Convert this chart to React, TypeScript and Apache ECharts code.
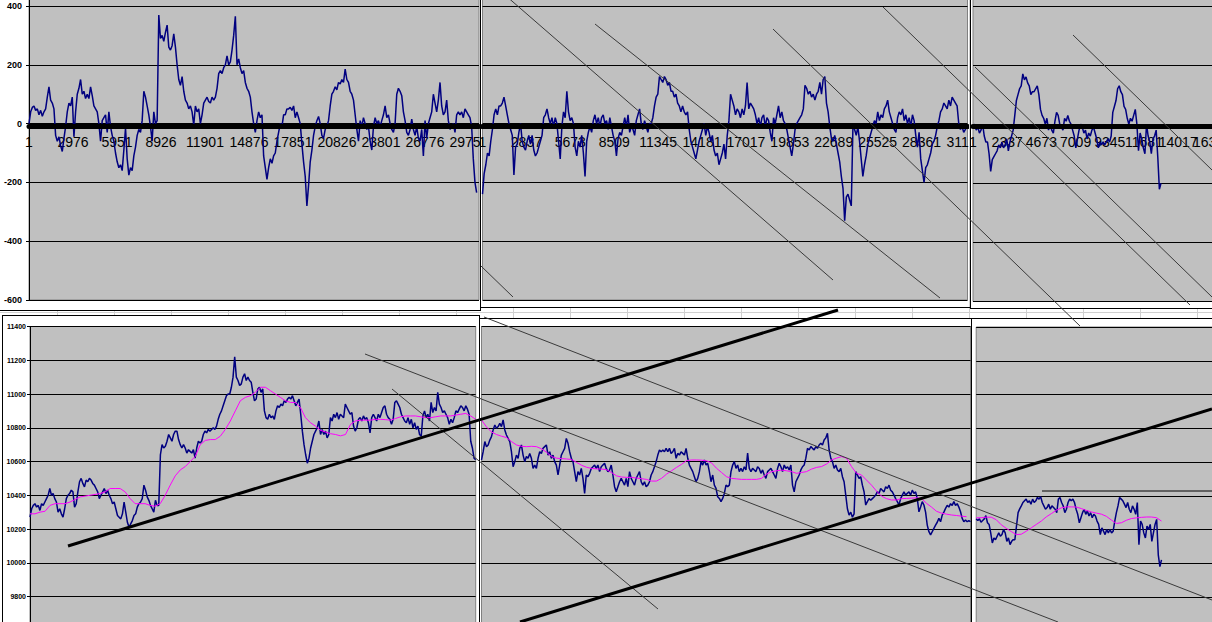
import React, { useEffect, useRef } from "react";
import * as echarts from "echarts";

const FONT = "'Liberation Sans', Arial, sans-serif";

// ---------- top row: oscillator (difference) values ----------
const TL_VALUES = [
  0, 40, 55, 60, 45, 50, 30, 45, 25, 40, 50, 90, 125, 80, 70, 50, -40, -60, -45, -75,
  -95, -50, -10, 40, 70, 60, 90, -45, 40, 100, 120, 150, 100, 110, 85, 100, 85, 125, 95, 60,
  50, 40, 0, -60, 10, 20, 30, -30, 40, -10, -40, -60, -100, -130, -150, -140, -160, -90, -15, -120,
  -175, -150, -160, -110, -80, -40, -20, -30, 10, 110, 90, 60, 30, -10, -60, 40, 0, 10, 369, 290,
  300, 280, 310, 335, 260, 250, 265, 305, 260, 200, 150, 130, 160, 110, 80, 70, 50, 60, 40, -5,
  60, 40, 50, 0, 30, 70, 80, 90, 75, 70, 90, 80, 90, 120, 170, 180, 170, 190, 200, 230,
  200, 210, 250, 300, 365, 200, 220, 190, 170, 180, 140, 120, 110,
  90, 40, 0, -30, 10, 40, 20, 30, -110, -150, -190, -150, -120, -135, -110, -100, -60, -30, 0, -10,
  30, 30, 50, 50, 55, 45, 60, 20, 40, 20, 0, -70, -130, -180, -280, -210, -130, -90, -40, -10,
  10, 24, 0, -40, -50, -20, -10, 10, 60, 100, 110, 125, 115, 140, 135, 150, 140, 185, 150, 140,
  110, 100, 80, 30, -20, -60, 10, -10, 20, 0, -20, -10, -60, -90, -10, 20, 0, 10, -10, 10,
  30, 60, 20, 30, 0, -20, -30, 0, 100, 120, 110, 95, 40, 10, -30, -40, -20, 15, -20, -40,
  -10, -50, -60, -20, -110, 10, -50, 0, 20, 40, 100, 70, 40, 80, 140, 60, 30, 40, 80, 10,
  -20, -10, 0, -30, 30, 40, 30, 40, 20, 50, 40, 30, 20, -10, -120, -200, -235,
];
const TM_VALUES = [
  -240, -170, -140, -100, -110, -60, -20, 30, 50, 30, 60, 60, 70, 90, 60, 30, 0, -20, -40, -175,
  -80, -70, -30, 0, -60, -80, -90, -60, -40, -70, -40, -90, -110, -100, -80, -60, -40, 20, 30, 50,
  20, 0, 20, -10, 20, 0, -60, -120, -10, 40, 20, 110, 40, 10, 20, 0, -80, -110, -60, -80,
  -40, -100, -180, -60, -30, -10, -30, 10, 30, 0, 20, -10, 20, 30, 0, 10, -20, 20, -10, -40,
  -60, -110, -50, -30, -40, -10, 20, -10, 30, -30, -10, -20, -40, 10, 30, 50, 0, -20, 10, -10,
  -30, 0, 0, 20, 60, 90, 100, 160, 150, 140, 160, 150, 130, 140, 110, 110, 90, 100, 70, 60,
  40, 60, 40, 30, 40, -20, -60, -80, -100, -120, -90, -60, -40, -20, 0, -40, -10, -30, -60, -40,
  -90, -110, -100, -140, -120, -100, -70, -120, -40, 10,
  100, 80, 60, 30, 50, 40, 20, 50, 30, 60, 140, 50, 70, 60, 50, 30, 0, 20, -10, 20,
  30, -10, 20, 10, -30, -60, 20, 0, 30, 60, 20, 40, 10, 0, -20, -50, -80, -110, -70, -20,
  0, 10, 20, 30, 50, 130, 120, 100, 110, 90, 100, 80, 100, 110, 140, 100, 150, 160, 70, 40,
  -10, -50, -60, -40, -70, -100, -130, -180, -220, -330, -250, -240, -260, -280, -10, -20, -40, -10, -60, -120,
  -180, -140, -110, -70, -50, -30, -10, 10, 0, 40, 10, 30, 20, 50, 60, 80, 40, 20, 0, -20,
  -30, 20, 40, 30, 50, 10, 30, 0, 20, -10, 30, 10, -40, -80, -30, -120, -160, -200, -150, -140,
  -120, -100, -70, -60, -40, -10, 10, 40, 50, 70, 60, 50, 80, 60, 90, 80, 70, 60, 0, -20,
  -10, -30, -20, -10,
];
const TR_VALUES = [
  -10, 0, -20, -10, -30, -20, 0, -40, -60, -60, -100, -160, -120, -110, -100, -90, -70, -80, -60, -80,
  -70, -50, -90, -60, -40, -20, 30, 80, 100, 120, 130, 170, 150, 160, 140, 130, 100, 110, 110, 120,
  130, 100, 50, 30, 20, 0, 20, -20, 0, -20, -30, 10, 40, 30, 0, -10, -20, 20, 10, 30,
  10, 0, -20, -40, -80, -50, -20, 0, -10, -30, -20, -50, -30, -40, -20, -10, -30, -50, -80, -60,
  -70, -60, -70, -60, -50, -60, -40, 40, 60, 80, 120, 130, 110, 100, 60, 50, 20, 0, 20, 10,
  30, 50, 0, -90, -30, -50, -80, -100, 0, -40, -60, -100, -50, -40, -20, -110, -220, -200,
];

// ---------- bottom row: price and its moving average ----------
const BL_PRICE = [
  10270, 10320, 10340, 10350, 10330, 10340, 10310, 10350, 10340, 10360, 10380, 10400, 10440, 10400, 10410, 10380, 10360, 10300, 10320, 10290,
  10270, 10320, 10380, 10400, 10410, 10430, 10420, 10330, 10350, 10420, 10480, 10500, 10470, 10450, 10490, 10480, 10500, 10490, 10470, 10460,
  10440, 10420, 10380, 10400, 10420, 10440, 10410, 10430, 10400, 10380, 10350, 10360, 10320, 10280, 10270, 10260, 10290, 10360, 10300, 10240,
  10210, 10230, 10250, 10280, 10290, 10330, 10350, 10360, 10380, 10460, 10430, 10390, 10370, 10340, 10320, 10300, 10370, 10340, 10340, 10640,
  10700, 10680, 10690, 10720, 10760, 10740, 10720, 10760, 10780, 10780, 10730, 10700, 10680, 10700, 10680, 10650, 10670, 10660, 10650, 10670,
  10620, 10680, 10720, 10710, 10720, 10760, 10780, 10770, 10790, 10780, 10790, 10800, 10790, 10810, 10850, 10880, 10900, 10930, 10960, 10990,
  11000, 11000, 11040, 11100, 11220, 11100, 11080, 11050, 11060, 11100, 11120, 11080, 11100, 11080, 11070,
  11010, 10960, 10970, 11030, 11040, 11010, 11030, 10900, 10860, 10850, 10880, 10860, 10870, 10850, 10900, 10930, 10920, 10940, 10930, 10960,
  10950, 10970, 10980, 10970, 10990, 10960, 10930, 10950, 10970, 10880, 10780, 10700, 10640, 10590, 10620, 10680, 10720, 10760, 10780, 10800,
  10840, 10760, 10790, 10760, 10780, 10740, 10760, 10860, 10840, 10880, 10860, 10890, 10850, 10880, 10870, 10860, 10940, 10920, 10900, 10880,
  10890, 10810, 10780, 10800, 10850, 10860, 10840, 10870, 10850, 10860, 10830, 10770, 10860, 10880, 10860, 10840, 10880, 10860, 10890, 10920,
  10930, 10880, 10860, 10850, 10820, 10850, 10950, 10960, 10940, 10920, 10880, 10860, 10840, 10830, 10860, 10820, 10850, 10800, 10830, 10790,
  10810, 10760, 10750, 10870, 10900, 10860, 10880, 10840, 10950, 10890, 10920, 10900, 11010, 10940, 10920, 10890, 10900, 10880, 10860, 10820,
  10850, 10830, 10860, 10900, 10890, 10910, 10930, 10920, 10900, 10930, 10910, 10880, 10720, 10680, 10620, 10610,
];
const BL_AVG = [
  10290, 10290, 10300, 10305, 10340, 10350, 10350, 10350, 10360, 10375, 10390, 10395, 10400, 10405, 10410, 10420, 10440, 10440, 10440, 10420,
  10380, 10350, 10350, 10350, 10340, 10335, 10350, 10400, 10460, 10515, 10550, 10570, 10600, 10630, 10700, 10725, 10730, 10730, 10750, 10790,
  10840, 10900, 10960, 10980, 10990,
  11010, 11040, 11040, 11020, 11000, 10980, 10960, 10950, 10950, 10920, 10860, 10830, 10810, 10785, 10775, 10765, 10760, 10752, 10760, 10820,
  10840, 10845, 10845, 10845, 10850, 10850, 10848, 10845, 10855, 10865, 10870, 10870, 10870, 10865, 10860, 10860, 10865, 10870, 10870, 10870,
  10875, 10880, 10885, 10870, 10850,
];
const BM_PRICE = [
  10609, 10658, 10718, 10688, 10698, 10727, 10747, 10787, 10816, 10797, 10807, 10826, 10807, 10846, 10787, 10757, 10737, 10718, 10658, 10569,
  10599, 10638, 10619, 10678, 10698, 10638, 10599, 10629, 10619, 10648, 10619, 10559, 10579, 10559, 10619, 10658, 10648, 10678, 10688, 10698,
  10638, 10658, 10619, 10638, 10599, 10579, 10520, 10579, 10638, 10658, 10678, 10737, 10708, 10658, 10619, 10599, 10540, 10480, 10540, 10520,
  10559, 10500, 10411, 10520, 10510, 10530, 10559, 10569, 10579, 10559, 10579, 10540, 10569, 10579, 10589, 10559, 10540, 10550, 10579, 10520,
  10451, 10421, 10451, 10480, 10500, 10480, 10460, 10500, 10451, 10540, 10500, 10480, 10460, 10500, 10520, 10540, 10480, 10460, 10480, 10451,
  10460, 10480, 10520, 10540, 10569, 10599, 10638, 10668, 10658, 10668, 10658, 10678, 10658, 10678, 10648, 10658, 10678, 10619, 10648, 10638,
  10658, 10648, 10638, 10678, 10619, 10579, 10559, 10540, 10510, 10480, 10500, 10540, 10599, 10579, 10609, 10579, 10589, 10540, 10480, 10520,
  10460, 10441, 10391, 10381, 10362, 10381, 10411, 10460, 10451,
  10460, 10540, 10579, 10599, 10559, 10579, 10540, 10559, 10540, 10569, 10550, 10650, 10559, 10540, 10559, 10550, 10540, 10569, 10559, 10530,
  10550, 10520, 10500, 10540, 10550, 10559, 10540, 10520, 10500, 10559, 10589, 10569, 10540, 10579, 10559, 10569, 10550, 10579, 10460, 10420,
  10480, 10500, 10520, 10550, 10569, 10579, 10620, 10678, 10668, 10688, 10678, 10669, 10688, 10678, 10698, 10708, 10698, 10727, 10740, 10767,
  10668, 10620, 10599, 10559, 10579, 10550, 10540, 10559, 10510, 10480, 10401, 10320, 10282, 10300, 10270, 10290, 10540, 10520, 10500, 10510,
  10460, 10421, 10342, 10362, 10380, 10370, 10380, 10390, 10401, 10421, 10411, 10440, 10430, 10420, 10450, 10440, 10460, 10430, 10420, 10401,
  10380, 10362, 10342, 10380, 10401, 10420, 10401, 10411, 10420, 10401, 10430, 10411, 10420, 10380, 10302, 10330, 10362, 10342, 10300, 10223,
  10184, 10165, 10184, 10204, 10223, 10240, 10263, 10243, 10282, 10300, 10322, 10340, 10330, 10350, 10340, 10362, 10340, 10350, 10330, 10302,
  10263, 10243, 10253, 10243, 10250, 10243,
];
const BM_AVG = [
  10846, 10805, 10775, 10760, 10750, 10742, 10718, 10698, 10690, 10688, 10690, 10688, 10675, 10655, 10629, 10620, 10617, 10615, 10612, 10595,
  10578, 10566, 10559, 10556, 10555, 10552, 10535, 10515, 10508, 10506, 10506, 10502, 10498, 10494, 10484, 10484, 10500, 10525, 10545, 10565,
  10583, 10605, 10609, 10609, 10608, 10604, 10592, 10560, 10535, 10510,
  10500, 10497, 10494, 10494, 10494, 10494, 10500, 10525, 10540, 10545, 10549, 10545, 10540, 10530, 10535, 10540, 10555, 10565, 10570, 10585,
  10609, 10620, 10629, 10620, 10570, 10530, 10520, 10490, 10460, 10425, 10395, 10380, 10372, 10372, 10380, 10381, 10383, 10385, 10381, 10352,
  10330, 10305, 10294, 10288, 10283, 10280, 10276, 10273,
];
const BR_PRICE = [
  10263, 10253, 10263, 10243, 10253, 10263, 10282, 10240, 10230, 10180, 10120, 10150, 10140, 10160, 10180, 10160, 10170, 10200, 10180, 10130,
  10150, 10110, 10130, 10140, 10140, 10220, 10300, 10322, 10340, 10360, 10370, 10380, 10360, 10370, 10350, 10380, 10360, 10370, 10390, 10380,
  10395, 10360, 10340, 10320, 10330, 10350, 10320, 10340, 10330, 10320, 10300, 10380, 10390, 10360, 10340, 10300, 10320, 10360, 10380, 10370,
  10380, 10360, 10320, 10290, 10240, 10270, 10300, 10320, 10290, 10310, 10280, 10300, 10270, 10290, 10280, 10250, 10230, 10170, 10210, 10190,
  10170, 10200, 10180, 10200, 10180, 10190, 10250, 10300, 10340, 10390, 10380, 10370, 10350, 10330, 10360, 10320, 10300, 10340, 10320, 10290,
  10360, 10110, 10250, 10230, 10180, 10150, 10220, 10200, 10230, 10130, 10180, 10230, 10260, 10050, 9980, 10020,
];
const BR_AVG = [
  10269, 10270, 10273, 10273, 10258, 10228, 10207, 10188, 10170, 10172, 10190, 10210, 10230, 10250, 10275, 10294, 10314, 10328, 10334, 10334,
  10333, 10324, 10313, 10304, 10297, 10291, 10278, 10256, 10236, 10240, 10255, 10265, 10269, 10272, 10274, 10274, 10270, 10250,
];

// index of the last observation in each window, and axis settings (points)
const TL_LAST = 30270;
const TL_MAX = 30430;
const TL_TICK = 2975;
const TM_LAST = 31300;
const TM_MAX = 31330;
const TM_TICK = 2836;
const TR_LAST = 12840;
const TR_MAX = 21024;
const TR_TICK = 2336;
const BM_AVG_LAST = 31045;

const TOP_MIN = -600;
const TOP_MAX = 600;
const TOP_STEP = 200;
const BOT_MIN = 9600;
const BOT_MAX = 11400;
const BOT_STEP = 200;

// hand-drawn trend lines on the sheet: [x1, y1, x2, y2] in sheet pixels
const THIN_LINES = [
  [505, -5, 833, 280],
  [595, 24, 940, 298],
  [773, 29, 1080, 326],
  [883, 7, 1190, 305],
  [975, 67, 1212, 297],
  [1073, 35, 1212, 170],
  [481, 266, 513, 297],
  [365, 354, 1058, 622],
  [484, 317, 1212, 600],
  [392, 389, 658, 609],
];
const THICK_LINES = [
  [68, 546, 838, 310],
  [520, 622, 1212, 409],
];
const LEVEL_LINES = [[1042, 491, 1212, 491]];

const NAVY = "#000080";
const MAGENTA = "#FF00FF";
const PLOT_BG = "#C0C0C0";

function toXY(vals: number[], last: number) {
  return vals.map((v, i) => [(i * last) / (vals.length - 1), v]);
}

type G = { left: number; top: number; width: number; height: number };

function gridOf(g: G) {
  return {
    left: g.left,
    top: g.top,
    width: g.width,
    height: g.height,
    show: true,
    backgroundColor: PLOT_BG,
    borderColor: "#808080",
    borderWidth: 1,
    containLabel: false,
    outerBoundsMode: "none",
  };
}

function topOption(vals: number[], last: number, max: number, tick: number, showY: boolean, g: G, axisOffset: number) {
  return {
    animation: false,
    backgroundColor: "#ffffff",
    grid: gridOf(g),
    xAxis: [
      {
        type: "value",
        min: 0,
        max: max,
        interval: tick,
        position: "bottom",
        offset: axisOffset,
        z: 1,
        axisLine: { show: false, onZero: false },
        axisTick: { show: false },
        splitLine: { show: false },
        axisLabel: {
          show: true,
          margin: 9,
          fontSize: 14,
          color: "#000",
          fontFamily: FONT,
          showMinLabel: true,
          showMaxLabel: false,
          hideOverlap: false,
          formatter: (v: number) => String(Math.round(v) + 1),
        },
      },
      {
        type: "value",
        min: 0,
        max: max,
        interval: tick,
        position: "bottom",
        offset: axisOffset,
        z: 10,
        axisLine: { show: true, onZero: false, lineStyle: { color: "#000", width: 5 } },
        axisTick: { show: false },
        axisLabel: { show: false },
        splitLine: { show: false },
      },
    ],
    yAxis: {
      type: "value",
      min: TOP_MIN,
      max: TOP_MAX,
      interval: TOP_STEP,
      z: 0,
      axisLine: { show: showY, onZero: false, lineStyle: { color: "#000", width: 1 } },
      axisTick: { show: showY, length: 3, lineStyle: { color: "#000" } },
      axisLabel: {
        show: showY,
        fontSize: 9,
        fontWeight: "bold",
        color: "#000",
        fontFamily: FONT,
        margin: 7,
        showMaxLabel: false,
        formatter: (v: number) => String(v),
      },
      splitLine: { show: true, lineStyle: { color: "#000", width: 1 } },
    },
    series: [
      {
        type: "line",
        xAxisIndex: 0,
        data: toXY(vals, last),
        showSymbol: false,
        symbol: "none",
        silent: true,
        z: 5,
        lineStyle: { color: NAVY, width: 1.5 },
      },
    ],
  };
}

function bottomOption(price: number[], last: number, avg: number[], avgLast: number, max: number, showY: boolean, g: G) {
  return {
    animation: false,
    backgroundColor: "#ffffff",
    grid: gridOf(g),
    xAxis: { type: "value", min: 0, max: max, show: false, axisLine: { onZero: false } },
    yAxis: {
      type: "value",
      min: BOT_MIN,
      max: BOT_MAX,
      interval: BOT_STEP,
      axisLine: { show: showY, onZero: false, lineStyle: { color: "#000", width: 1 } },
      axisTick: { show: showY, length: 3, lineStyle: { color: "#000" } },
      axisLabel: {
        show: showY,
        fontSize: 7,
        fontWeight: "bold",
        color: "#000",
        fontFamily: FONT,
        margin: 4,
        showMinLabel: false,
        formatter: (v: number) => String(v),
      },
      splitLine: { show: true, lineStyle: { color: "#000", width: 1 } },
    },
    series: [
      {
        type: "line",
        data: toXY(price, last),
        showSymbol: false,
        symbol: "none",
        silent: true,
        z: 4,
        lineStyle: { color: NAVY, width: 1.5 },
      },
      {
        type: "line",
        data: toXY(avg, avgLast),
        showSymbol: false,
        symbol: "none",
        silent: true,
        z: 5,
        lineStyle: { color: MAGENTA, width: 1 },
      },
    ],
  };
}

// sheet frame lines (chart-object borders)
const BORDERS = [
  [480.5, -2, 480.5, 311],
  [-2, 310.5, 481, 310.5],
  [481, 307.5, 970, 307.5],
  [970.5, -2, 970.5, 309],
  [970, 308.5, 1214, 308.5],
  [2, 315.5, 480, 315.5],
  [2.5, 315.5, 2.5, 624],
  [479.5, 315.5, 479.5, 624],
  [479.5, 318.5, 1214, 318.5],
  [971.5, 318.5, 971.5, 624],
];

function seg(l: number[], color: string, width: number) {
  return {
    type: "line",
    silent: true,
    shape: { x1: l[0], y1: l[1], x2: l[2], y2: l[3] },
    style: { stroke: color, lineWidth: width },
  };
}

const OVERLAY_OPTION = {
  animation: false,
  graphic: [
    ...BORDERS.map((b) => seg(b, "#000", 1)),
    ...THIN_LINES.map((l) => seg(l, "#3a3a3a", 1)),
    ...LEVEL_LINES.map((l) => seg(l, "#606060", 2)),
    ...THICK_LINES.map((l) => seg(l, "#000", 3)),
  ],
};

const PANELS = [
  {
    key: "tl",
    box: { left: -10, top: -80, width: 490, height: 390 },
    option: topOption(TL_VALUES, TL_LAST, TL_MAX, TL_TICK, true, { left: 39, top: 27.2, width: 450, height: 352.8 }, -173.7),
  },
  {
    key: "tm",
    box: { left: 481, top: -80, width: 488, height: 387 },
    option: topOption(TM_VALUES, TM_LAST, TM_MAX, TM_TICK, false, { left: 1.5, top: 27.2, width: 485, height: 352.8 }, -173.7),
  },
  {
    key: "tr",
    box: { left: 971, top: -80, width: 320, height: 388 },
    option: topOption(TR_VALUES, TR_LAST, TR_MAX, TR_TICK, false, { left: 2, top: 26.9, width: 307.8, height: 354.6 }, -175.5),
  },
  {
    key: "bl",
    box: { left: 3, top: 316, width: 475, height: 400 },
    option: bottomOption(BL_PRICE, TL_LAST, BL_AVG, TL_LAST, TL_LAST, true, { left: 27, top: 10.5, width: 445.7, height: 303.75 }),
  },
  {
    key: "bm",
    box: { left: 480, top: 319, width: 491, height: 400 },
    option: bottomOption(BM_PRICE, TM_LAST, BM_AVG, BM_AVG_LAST, TM_LAST, false, { left: 1.5, top: 7.5, width: 489, height: 303.75 }),
  },
  {
    key: "br",
    box: { left: 972.5, top: 318.5, width: 320, height: 400 },
    option: bottomOption(BR_PRICE, TR_LAST, BR_AVG, TR_LAST, TR_MAX, false, { left: 3.2, top: 8, width: 303.4, height: 303.75 }),
  },
];

function EChart({ option, style }: { option: any; style: React.CSSProperties }) {
  const ref = useRef<HTMLDivElement>(null);
  useEffect(() => {
    if (!ref.current) return;
    const chart = echarts.init(ref.current, undefined, { renderer: "svg" });
    chart.setOption(option);
    return () => chart.dispose();
  }, [option]);
  return <div ref={ref} style={style} />;
}

export default function App() {
  return (
    <div
      style={{
        position: "fixed",
        left: 0,
        top: 0,
        width: 1212,
        height: 622,
        overflow: "hidden",
        backgroundColor: "#ffffff",
        backgroundImage:
          "linear-gradient(to bottom, transparent 312px, #d0d0d0 312px, #d0d0d0 313px, transparent 313px), repeating-linear-gradient(to right, transparent 0px, transparent 56px, #d0d0d0 56px, #d0d0d0 57px)",
        backgroundPosition: "0 0, 1px 0",
      }}
    >
      {PANELS.map((p) => (
        <EChart
          key={p.key}
          option={p.option}
          style={{
            position: "absolute",
            left: p.box.left,
            top: p.box.top,
            width: p.box.width,
            height: p.box.height,
            overflow: "hidden",
            background: "#ffffff",
          }}
        />
      ))}
      <EChart
        option={OVERLAY_OPTION}
        style={{ position: "absolute", left: 0, top: 0, width: 1212, height: 622, pointerEvents: "none" }}
      />
    </div>
  );
}
